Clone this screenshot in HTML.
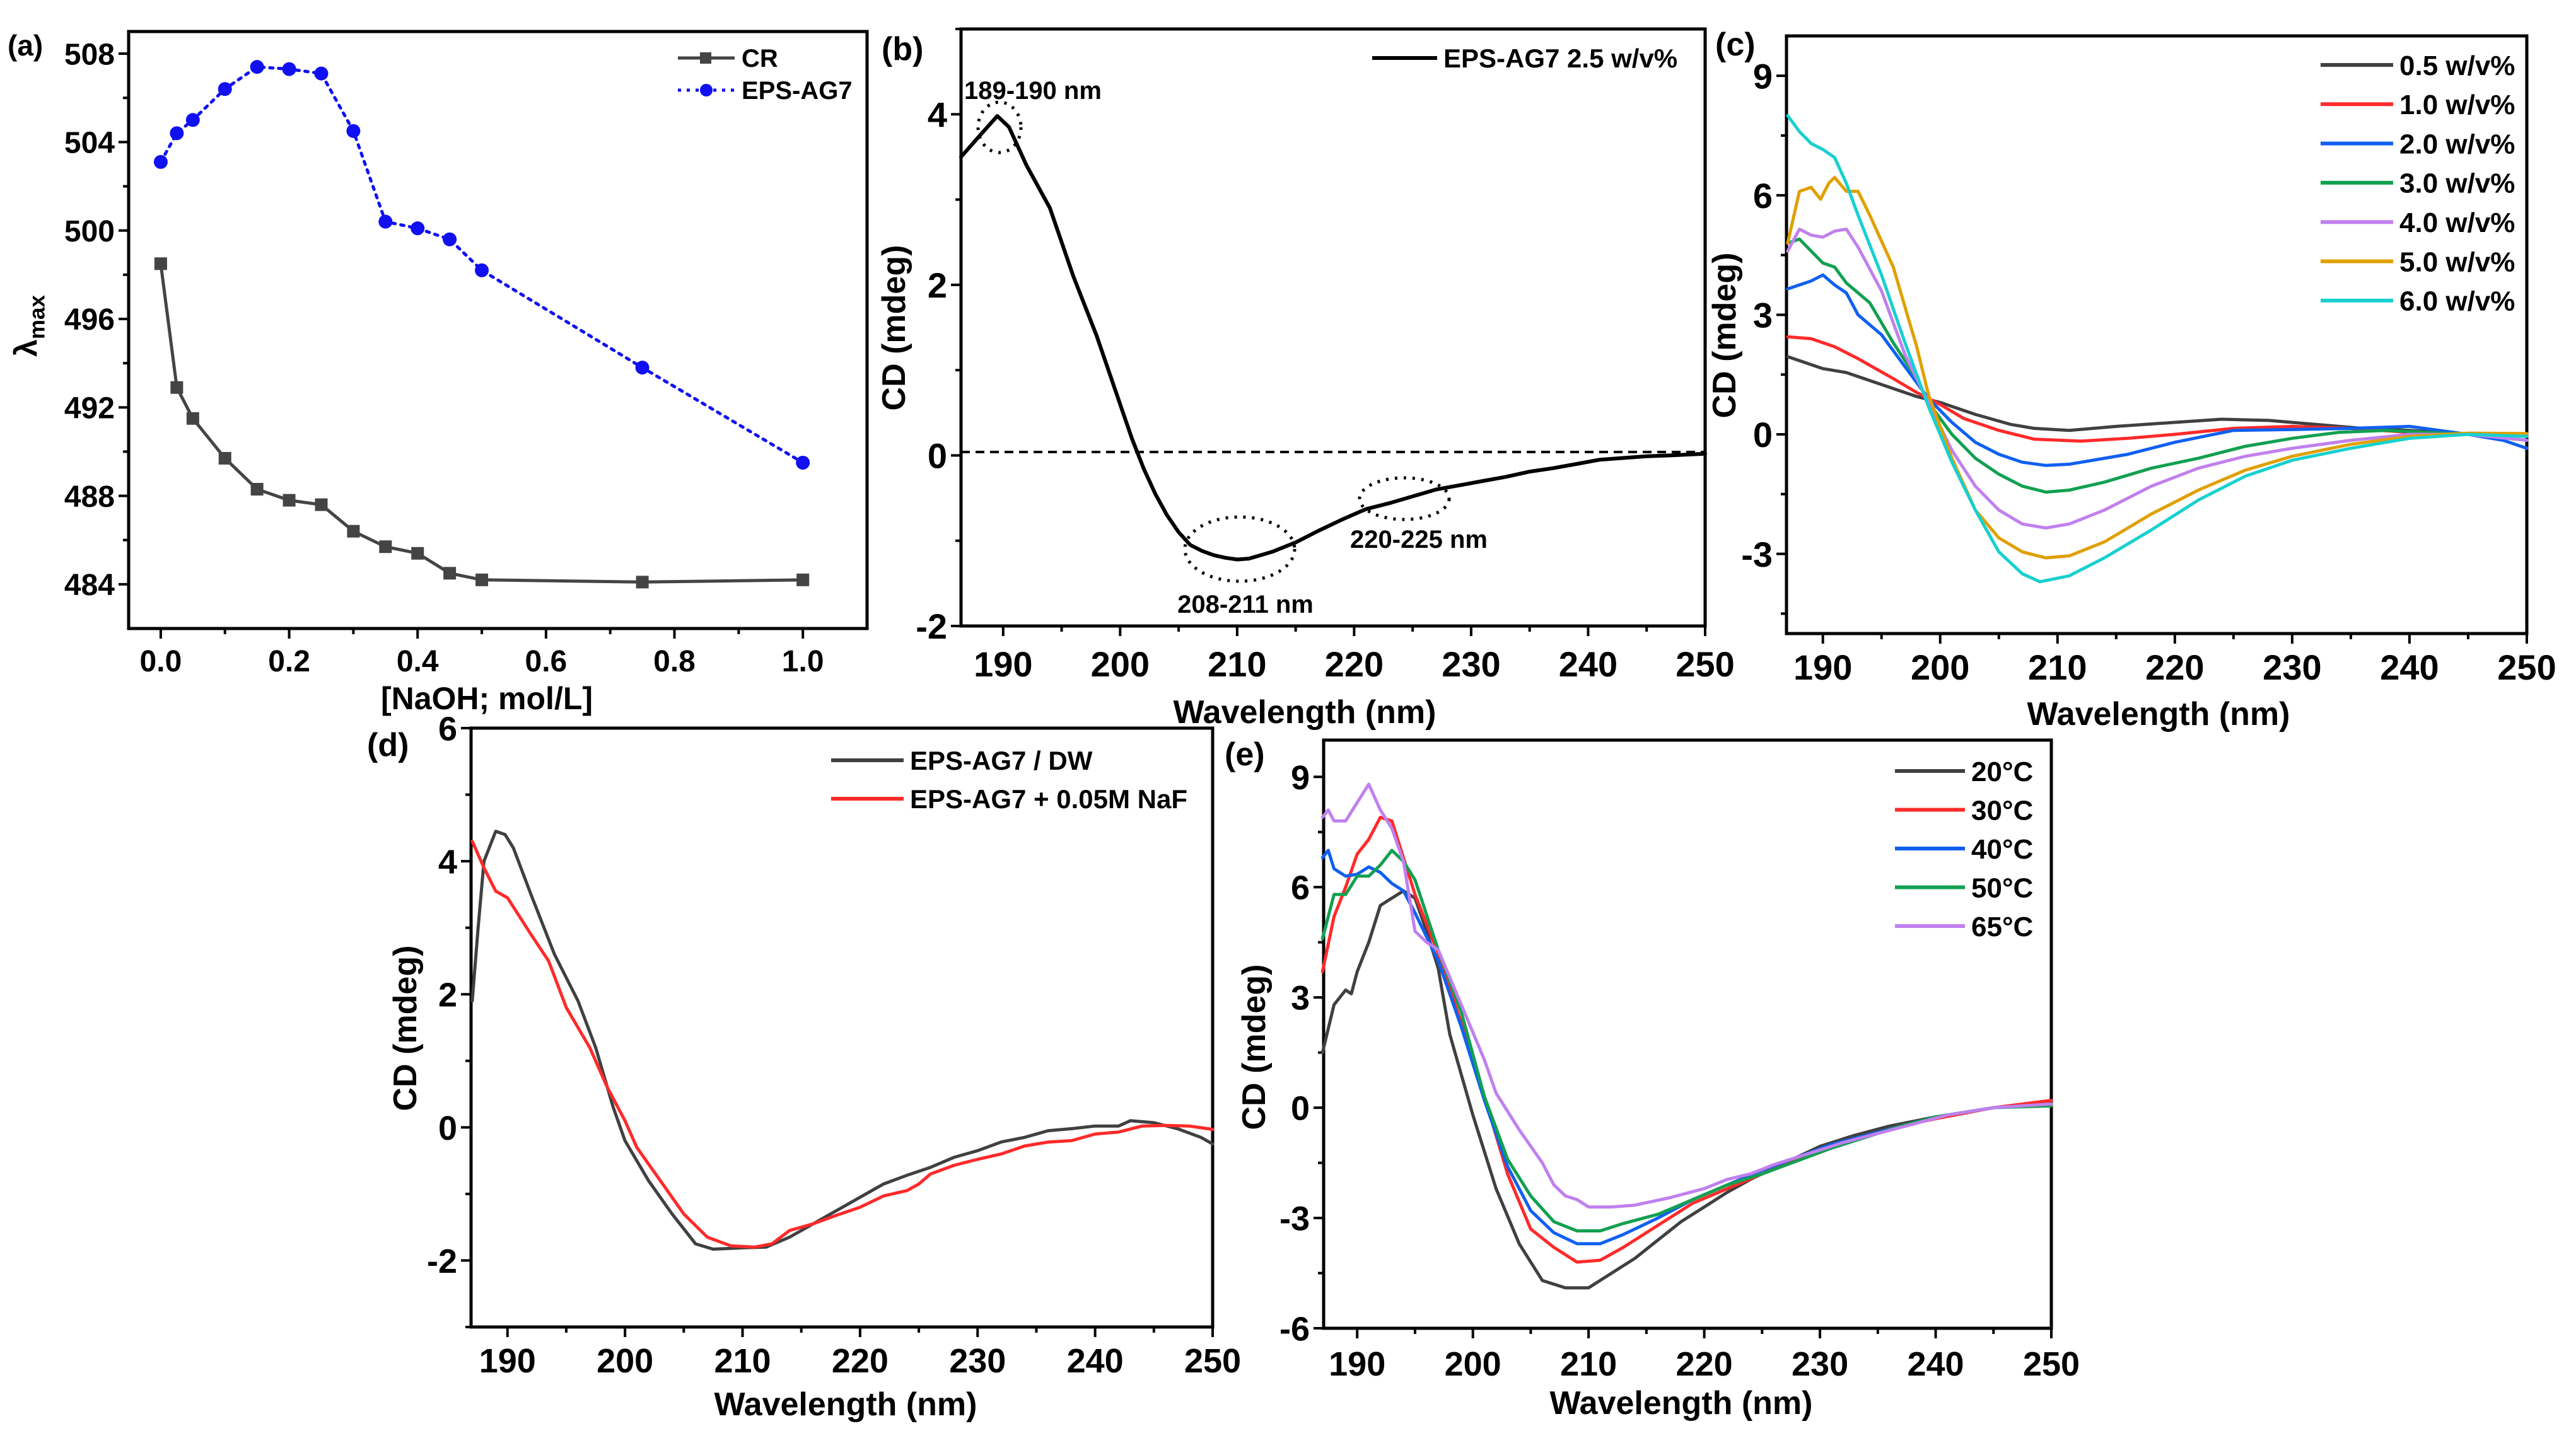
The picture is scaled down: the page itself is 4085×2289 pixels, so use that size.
<!DOCTYPE html>
<html><head><meta charset="utf-8"><style>
html,body{margin:0;padding:0;background:#fff;}
svg{display:block;font-family:"Liberation Sans",Arial,sans-serif;font-weight:bold;}
</style></head><body>
<svg id="fig" xmlns="http://www.w3.org/2000/svg" width="4085" height="2289" viewBox="0 0 4085 2289">
<rect width="4085" height="2289" fill="#fff"/>
</svg>
<script>
// ---------- Panel (a) data ----------
const naohConc = [0,0.025,0.05,0.1,0.15,0.2,0.25,0.3,0.35,0.4,0.45,0.5,0.75,1.0];
const crLambda = [498.5,492.9,491.5,489.7,488.3,487.8,487.6,486.4,485.7,485.4,484.5,484.2,484.1,484.2];
const epsLambda = [503.1,504.4,505.0,506.4,507.4,507.3,507.1,504.5,500.4,500.1,499.6,498.2,493.8,489.5];
const aXTicks = ["0.0","0.2","0.4","0.6","0.8","1.0"];
const aYTicks = ["484","488","492","496","500","504","508"];
// ---------- Panel (b) data ----------
const bWl = [186.4,188,189.5,190.5,192,194,196,198,200,201,202,203,204,205,206,207,208,209,210,211,212,213,215,217,219,221,223,225,227,229,231,233,235,237,239,241,243,245,247,250];
const bCd = [3.5,3.75,3.98,3.85,3.4,2.9,2.1,1.4,0.6,0.2,-0.15,-0.45,-0.7,-0.9,-1.05,-1.12,-1.17,-1.2,-1.22,-1.21,-1.17,-1.13,-1.02,-0.88,-0.75,-0.63,-0.56,-0.48,-0.4,-0.35,-0.3,-0.25,-0.19,-0.15,-0.1,-0.05,-0.03,-0.01,0,0.02];
const wlTicks = ["190","200","210","220","230","240","250"];
const bYTicks = ["-2","0","2","4"];
// ---------- Panel (c) data ----------
const c05wl=[187,190,192,195,198,200,203,206,208,211,215,220,224,228,232,236,240,245,250];
const c05cd=[1.95,1.65,1.55,1.25,0.95,0.8,0.5,0.25,0.15,0.1,0.2,0.3,0.38,0.35,0.25,0.15,0.1,0,-0.05];
const c10wl=[187,189,191,193,196,198,200,202,205,208,212,216,220,225,230,235,240,245,250];
const c10cd=[2.45,2.4,2.2,1.9,1.4,1.05,0.75,0.4,0.1,-0.12,-0.17,-0.1,0,0.15,0.2,0.15,0.05,0,0];
const c20wl=[187,189,190,191,192,193,195,197,199,201,203,205,207,209,211,213,216,220,225,230,235,240,245,248,250];
const c20cd=[3.65,3.85,4.0,3.75,3.55,3.0,2.5,1.7,0.9,0.3,-0.2,-0.5,-0.7,-0.78,-0.75,-0.65,-0.5,-0.2,0.1,0.12,0.15,0.2,0,-0.15,-0.35];
const c30wl=[187,188,189,190,191,192,194,196,198,199,201,203,205,207,209,211,214,218,222,226,230,234,238,245,250];
const c30cd=[4.8,4.9,4.6,4.3,4.2,3.8,3.3,2.3,1.4,0.8,0,-0.6,-1.0,-1.3,-1.45,-1.4,-1.2,-0.85,-0.6,-0.3,-0.1,0.05,0.1,0,-0.05];
const c40wl=[187,188,189,190,191,192,193,195,197,199,201,203,205,207,209,211,214,218,222,226,230,235,240,245,250];
const c40cd=[4.6,5.15,5.0,4.95,5.1,5.15,4.7,3.6,2.0,0.8,-0.4,-1.3,-1.9,-2.25,-2.35,-2.25,-1.9,-1.3,-0.85,-0.55,-0.35,-0.15,0,0,-0.15];
const c50wl=[187,188,189,189.8,190.5,191,192,193,194,196,198,199,201,203,205,207,209,211,214,218,222,226,230,235,240,245,250];
const c50cd=[4.8,6.1,6.2,5.9,6.3,6.45,6.1,6.1,5.5,4.2,2.2,1.0,-0.6,-1.9,-2.6,-2.95,-3.1,-3.05,-2.7,-2.0,-1.4,-0.9,-0.55,-0.25,-0.05,0.03,0.02];
const c60wl=[187,188,189,190,191,192,193,195,197,199,201,203,205,207,208.5,211,214,218,222,226,230,235,240,245,250];
const c60cd=[8.0,7.6,7.3,7.15,6.95,6.3,5.5,4.0,2.3,0.7,-0.7,-1.9,-2.95,-3.5,-3.7,-3.55,-3.1,-2.4,-1.65,-1.05,-0.65,-0.35,-0.1,0,-0.05];
const cLabels=["0.5 w/v%","1.0 w/v%","2.0 w/v%","3.0 w/v%","4.0 w/v%","5.0 w/v%","6.0 w/v%"];
const cYTicks=["-3","0","3","6","9"];
// ---------- Panel (d) data ----------
const dDwWl=[187,187.5,188,189,189.8,190.5,192,194,196,197.5,199,200,202,204,206,207.5,210,212,214,216,218,220,222,224,226,228,230,232,234,236,238,240,242,243,245,247,249,250];
const dDwCd=[1.9,3.0,4.0,4.45,4.4,4.2,3.5,2.6,1.9,1.2,0.3,-0.2,-0.8,-1.3,-1.75,-1.83,-1.81,-1.8,-1.65,-1.45,-1.25,-1.05,-0.85,-0.72,-0.6,-0.45,-0.35,-0.22,-0.15,-0.05,-0.02,0.02,0.02,0.1,0.07,-0.02,-0.15,-0.25];
const dNaWl=[187,188,189,190,192,193.5,195,197,198.5,200,201,203,205,207,209,211,212.5,214,216,218,220,222,224,225,226,228,230,232,234,236,238,240,242,244,246,248,250];
const dNaCd=[4.3,3.9,3.55,3.45,2.9,2.5,1.8,1.2,0.6,0.1,-0.3,-0.8,-1.3,-1.65,-1.78,-1.8,-1.75,-1.55,-1.45,-1.32,-1.2,-1.03,-0.95,-0.85,-0.7,-0.57,-0.48,-0.4,-0.28,-0.22,-0.2,-0.1,-0.07,0.02,0.03,0.02,-0.03];
const dYTicks=["-2","0","2","4","6"];
// ---------- Panel (e) data ----------
const e20wl=[187,188,189,189.5,190,191,192,193,194,195,196,197,198,199,200,202,204,206,208,210,212,214,216,218,220,222,224,226,228,230,233,236,240,245,250];
const e20cd=[1.5,2.8,3.2,3.1,3.7,4.5,5.5,5.7,5.9,5.7,4.8,3.8,2.0,0.9,-0.2,-2.2,-3.7,-4.7,-4.9,-4.9,-4.5,-4.1,-3.6,-3.1,-2.7,-2.3,-1.95,-1.65,-1.35,-1.05,-0.75,-0.5,-0.25,0,0.15];
const e30wl=[187,188,189,190,191,192,193,194,195,197,199,201,203,205,207,209,211,213,216,219,222,225,228,231,234,237,240,245,250];
const e30cd=[3.7,5.2,6.0,6.9,7.3,7.9,7.8,6.8,5.8,4.2,2.3,0.3,-1.8,-3.3,-3.8,-4.2,-4.15,-3.8,-3.2,-2.6,-2.2,-1.8,-1.4,-1.05,-0.75,-0.5,-0.3,0,0.2];
const e40wl=[187,187.5,188,189,190,191,192,193,194,195,197,199,201,203,205,207,209,211,213,216,219,222,225,228,231,234,237,240,245,250];
const e40cd=[6.8,7.0,6.5,6.3,6.35,6.55,6.4,6.1,5.9,5.3,4.0,2.2,0.2,-1.6,-2.8,-3.4,-3.7,-3.7,-3.45,-3.0,-2.5,-2.1,-1.7,-1.35,-1.0,-0.75,-0.5,-0.25,0,0.1];
const e50wl=[187,188,189,190,191,192,193,194,195,197,199,201,203,205,207,209,211,213,216,219,222,225,228,231,234,237,240,245,250];
const e50cd=[4.6,5.8,5.8,6.3,6.3,6.6,7.0,6.7,6.2,4.3,2.6,0.3,-1.4,-2.4,-3.1,-3.35,-3.35,-3.15,-2.9,-2.5,-2.1,-1.8,-1.45,-1.1,-0.8,-0.5,-0.25,0,0.05];
const e65wl=[187,187.5,188,189,190,191,192,193,194,195,196,197,199,201,202,204,206,207,208,209,210,212,214,217,220,222,224,226,229,232,235,238,241,245,250];
const e65cd=[7.9,8.1,7.8,7.8,8.3,8.8,8.1,7.6,6.7,4.8,4.5,4.3,2.8,1.3,0.4,-0.6,-1.5,-2.1,-2.4,-2.5,-2.7,-2.7,-2.65,-2.45,-2.2,-1.95,-1.8,-1.55,-1.25,-0.95,-0.7,-0.45,-0.2,0,0.1];
const eLabels=["20°C","30°C","40°C","50°C","65°C"];
const eYTicks=["-6","-3","0","3","6","9"];

const NS="http://www.w3.org/2000/svg";
const svg=document.getElementById('fig');
function mk(tag,attrs,parent,text){const e=document.createElementNS(NS,tag);for(const k in attrs)e.setAttribute(k,attrs[k]);if(text!==undefined)e.textContent=text;(parent||svg).appendChild(e);return e;}

function makePanel(p){
  const g=mk('g',{});
  
  
  const sx=v=>p.x0+(v-p.xmin)/(p.xmax-p.xmin)*(p.x1-p.x0);
  const sy=v=>p.y1-(v-p.ymin)/(p.ymax-p.ymin)*(p.y1-p.y0);
  p.sx=sx;p.sy=sy;p.g=g;
  const fr=mk('rect',{x:p.x0,y:p.y0,width:p.x1-p.x0,height:p.y1-p.y0,fill:'none',stroke:'#000','stroke-width':5},g);
  
  
  p.xMajor.forEach((lab,i)=>{
    const v=parseFloat(lab);const X=sx(v);
    mk('line',{x1:X,x2:X,y1:p.y1,y2:p.y1+16,stroke:'#000','stroke-width':4},g);
    const t=mk('text',{x:X,y:p.xLabY,'text-anchor':'middle','font-size':p.tfs},g,lab);
    
    
  });
  for(let v=p.xMinorStart;v<p.xmax-1e-9;v+=p.xMinorStep){
    mk('line',{x1:sx(v),x2:sx(v),y1:p.y1,y2:p.y1+9,stroke:'#000','stroke-width':4},g);
  }
  p.yMajor.forEach(lab=>{
    const v=parseFloat(lab);const Y=sy(v);
    mk('line',{x1:p.x0-16,x2:p.x0,y1:Y,y2:Y,stroke:'#000','stroke-width':4},g);
    const t=mk('text',{x:p.x0-22,y:Y+p.tfs*0.36,'text-anchor':'end','font-size':p.tfs},g,lab);
    
    
  });
  for(let v=p.yMinorStart;v<p.ymax+1e-9;v+=p.yMinorStep){
    mk('line',{x1:p.x0-9,x2:p.x0,y1:sy(v),y2:sy(v),stroke:'#000','stroke-width':4},g);
  }
  const xt=mk('text',{x:p.xTitleX,y:p.xTitleY,'text-anchor':'middle','font-size':p.afs},g,p.xTitle);
  
  
  const yt=mk('text',{x:0,y:0,'text-anchor':'middle','font-size':p.afs,transform:`translate(${p.yTitleX},${p.yTitleY}) rotate(-90)`},g);
  
  
  if(p.yTitleSub){yt.textContent=p.yTitle;mk('tspan',{'font-size':p.afs*0.7,dy:p.afs*0.25},yt,p.yTitleSub);}
  else yt.textContent=p.yTitle;
  const pl=mk('text',{x:p.labX,y:p.labY,'font-size':p.lfs},g,p.label);
  
  
  return p;
}
function line(p,xs,ys,color,name,w,dash){
  let d='';xs.forEach((x,i)=>{d+=(i?'L':'M')+p.sx(x).toFixed(1)+','+p.sy(ys[i]).toFixed(1);});
  const a={d:d,fill:'none',stroke:color,'stroke-width':w||5,'stroke-linejoin':'round','stroke-linecap':'round'};
  if(dash)a['stroke-dasharray']=dash;
  const e=mk('path',a,p.g);
  
  
  return e;
}
function legendEntry(p,x1,x2,y,color,label,fs,name){
  const g=mk('g',{},p.g);
  
  
  mk('line',{x1:x1,x2:x2,y1:y,y2:y,stroke:color,'stroke-width':6},g);
  mk('text',{x:x2+10,y:y+fs*0.36,'font-size':fs},g,label);
  return g;
}

const pa=makePanel({name:'panel-a',x0:204,x1:1375,y0:50,y1:997,xmin:-0.05,xmax:1.1,ymin:482,ymax:509,
  xMajor:aXTicks,xMinorStart:0.1,xMinorStep:0.2,yMajor:aYTicks,yMinorStart:486,yMinorStep:4,
  tfs:48,afs:50,lfs:46,xLabY:1065,xTitle:'[NaOH; mol/L]',xTitleX:772,xTitleY:1125,
  yTitle:'λ',yTitleSub:'max',yTitleX:58,yTitleY:517,label:'(a)',labX:12,labY:88});
line(pa,naohConc,crLambda,'#444','cr-line',5);
line(pa,naohConc,epsLambda,'#1010f0','eps-ag7-line',5,'5 9');
naohConc.forEach((x,i)=>{
  const r=mk('rect',{x:pa.sx(x)-10,y:pa.sy(crLambda[i])-10,width:20,height:20,fill:'#444'},pa.g);
  
  
  const c=mk('circle',{cx:pa.sx(x),cy:pa.sy(epsLambda[i]),r:11,fill:'#1010f0'},pa.g);
  
  
});
{const g=mk('g',{},pa.g);
 mk('line',{x1:1075,x2:1165,y1:92,y2:92,stroke:'#444','stroke-width':5},g);mk('rect',{x:1110,y:83,width:18,height:18,fill:'#444'},g);
 mk('text',{x:1176,y:106,'font-size':40},g,'CR');}
{const g=mk('g',{},pa.g);
 mk('line',{x1:1075,x2:1165,y1:143,y2:143,stroke:'#1010f0','stroke-width':5,'stroke-dasharray':'5 9'},g);mk('circle',{cx:1120,cy:143,r:10,fill:'#1010f0'},g);
 mk('text',{x:1176,y:157,'font-size':40},g,'EPS-AG7');}

const pb=makePanel({name:'panel-b',x0:1524,x1:2704,y0:46,y1:993,xmin:186.4,xmax:250,ymin:-2,ymax:5,
  xMajor:wlTicks,xMinorStart:195,xMinorStep:10,yMajor:bYTicks,yMinorStart:-1,yMinorStep:2,
  tfs:56,afs:52,lfs:52,xLabY:1073,xTitle:'Wavelength (nm)',xTitleX:2069,xTitleY:1147,
  yTitle:'CD (mdeg)',yTitleX:1435,yTitleY:520,label:'(b)',labX:1398,labY:95});
{const e=mk('line',{x1:1524,x2:2704,y1:pb.sy(0.04),y2:pb.sy(0.04),stroke:'#000','stroke-width':4,'stroke-dasharray':'14 9'},pb.g);
 }
line(pb,bWl,bCd,'#000','eps-ag7-2.5-line',6);
[[1585,202,34,40],[1966,871,87,51],[2227,791,71,33]].forEach(a=>{
  const e=mk('ellipse',{cx:a[0],cy:a[1],rx:a[2],ry:a[3],fill:'none',stroke:'#000','stroke-width':5,'stroke-dasharray':'4 10'},pb.g);
  
});
[['189-190 nm',1529,157,'start'],['208-211 nm',1975,972,'middle'],['220-225 nm',2250,869,'middle']].forEach(a=>{
  const t=mk('text',{x:a[1],y:a[2],'font-size':40,'text-anchor':a[3]},pb.g,a[0]);
  
});
legendEntry(pb,2176,2279,92,'#000','EPS-AG7 2.5 w/v%',42,'legend-eps-ag7-2.5');

const pc=makePanel({name:'panel-c',x0:2833,x1:4007,y0:57,y1:1005,xmin:186.9,xmax:250,ymin:-5,ymax:10,
  xMajor:wlTicks,xMinorStart:195,xMinorStep:10,yMajor:cYTicks,yMinorStart:-4.5,yMinorStep:3,
  tfs:56,afs:52,lfs:52,xLabY:1078,xTitle:'Wavelength (nm)',xTitleX:3423,xTitleY:1150,
  yTitle:'CD (mdeg)',yTitleX:2752,yTitleY:532,label:'(c)',labX:2720,labY:88});
const cCol=['#404040','#ff2a2a','#1060f0','#12a050','#c080ee','#e0a000','#18d0d0'];
const cWls=[c05wl,c10wl,c20wl,c30wl,c40wl,c50wl,c60wl];
const cCds=[c05cd,c10cd,c20cd,c30cd,c40cd,c50cd,c60cd];
cWls.forEach((w,i)=>line(pc,w,cCds[i],cCol[i],'series-'+cLabels[i].split(' ')[0]+'-wv',5));
cLabels.forEach((l,i)=>legendEntry(pc,3680,3795,103+i*62.3,cCol[i],l,44,'legend-entry-'+i));

const pd=makePanel({name:'panel-d',x0:747,x1:1923,y0:1155,y1:2105,xmin:186.9,xmax:250,ymin:-3,ymax:6,
  xMajor:wlTicks,xMinorStart:195,xMinorStep:10,yMajor:dYTicks,yMinorStart:-3,yMinorStep:2,
  tfs:54,afs:52,lfs:52,xLabY:2177,xTitle:'Wavelength (nm)',xTitleX:1341,xTitleY:2245,
  yTitle:'CD (mdeg)',yTitleX:660,yTitleY:1631,label:'(d)',labX:582,labY:1199});
line(pd,dDwWl,dDwCd,'#404040','eps-ag7-dw-line',5);
line(pd,dNaWl,dNaCd,'#ff2a2a','eps-ag7-naf-line',5);
legendEntry(pd,1318,1433,1206,'#404040','EPS-AG7 / DW',42,'legend-dw');
legendEntry(pd,1318,1433,1267,'#ff2a2a','EPS-AG7 + 0.05M NaF',42,'legend-naf');

const pe=makePanel({name:'panel-e',x0:2099,x1:3253,y0:1174,y1:2107,xmin:187.1,xmax:250,ymin:-6,ymax:10,
  xMajor:wlTicks,xMinorStart:195,xMinorStep:10,yMajor:eYTicks,yMinorStart:-4.5,yMinorStep:3,
  tfs:54,afs:52,lfs:52,xLabY:2182,xTitle:'Wavelength (nm)',xTitleX:2666,xTitleY:2243,
  yTitle:'CD (mdeg)',yTitleX:2006,yTitleY:1661,label:'(e)',labX:1942,labY:1214});
const eCol=['#404040','#ff2a2a','#1060f0','#12a050','#c080ee'];
const eWls=[e20wl,e30wl,e40wl,e50wl,e65wl];
const eCds=[e20cd,e30cd,e40cd,e50cd,e65cd];
eWls.forEach((w,i)=>line(pe,w,eCds[i],eCol[i],'series-'+eLabels[i].replace('°C','c'),5));
eLabels.forEach((l,i)=>legendEntry(pe,3005,3116,1223+i*61.5,eCol[i],l,44,'legend-entry-'+l.replace('°C','c')));
</script>
</body></html>
